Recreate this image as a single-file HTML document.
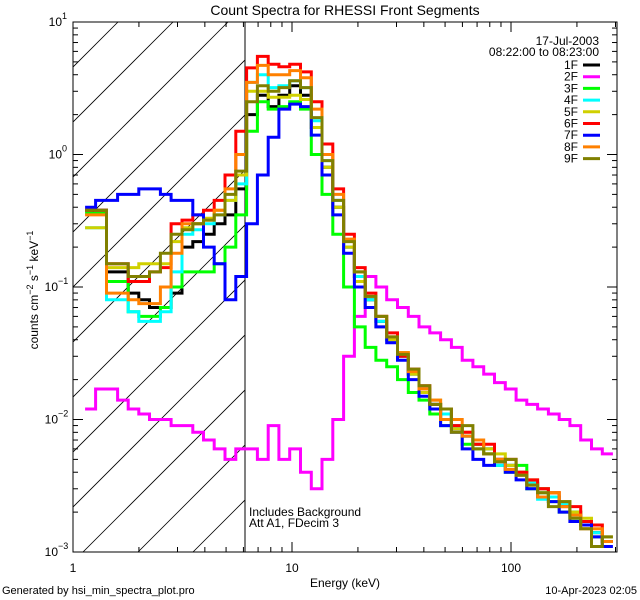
<!DOCTYPE html>
<html><head><meta charset="utf-8"><style>
body{margin:0;background:#fff;}
svg{display:block;font-family:"Liberation Sans",sans-serif;}
</style></head><body>
<svg id="chart" width="640" height="600" xmlns="http://www.w3.org/2000/svg">
<defs><clipPath id="plotclip"><rect x="73" y="22" width="544" height="530"/></clipPath>
<clipPath id="hatchclip"><rect x="73" y="22" width="172" height="530"/></clipPath></defs>
<rect width="640" height="600" fill="#fff"/>
<text x="345" y="15" font-size="14" text-anchor="middle">Count Spectra for RHESSI Front Segments</text>
<g id="hatch" clip-path="url(#hatchclip)"></g>
<line x1="245" y1="22" x2="245" y2="552" stroke="#000" stroke-width="1"/>
<g id="series" clip-path="url(#plotclip)"></g>
<rect x="73" y="22" width="544" height="530" fill="none" stroke="#000" stroke-width="1"/>
<g id="axes"></g>
<text x="345" y="587" font-size="12" text-anchor="middle">Energy (keV)</text>
<text transform="translate(38,290) rotate(-90)" font-size="12" text-anchor="middle">counts cm<tspan dy="-5" font-size="9">−2</tspan><tspan dy="5"> s</tspan><tspan dy="-5" font-size="9">−1</tspan><tspan dy="5"> keV</tspan><tspan dy="-5" font-size="9">−1</tspan></text>
<text x="249" y="516" font-size="12">Includes Background</text>
<text x="249" y="527" font-size="12">Att A1, FDecim 3</text>
<text x="599" y="45" font-size="12" text-anchor="end">17-Jul-2003</text>
<text x="599" y="56" font-size="12" text-anchor="end">08:22:00 to 08:23:00</text>
<g id="legend"></g>
<text x="2" y="594" font-size="11">Generated by hsi_min_spectra_plot.pro</text>
<text x="637" y="594" font-size="11" text-anchor="end">10-Apr-2023 02:05</text>
</svg>
<script>
const energies=[1.20,1.34,1.51,1.69,1.89,2.11,2.37,2.65,2.97,3.33,3.73,4.17,4.67,5.23,5.86,6.57,7.35,8.24,9.22,10.33,11.57,12.96,14.51,16.25,18.20,20.39,22.84,25.58,28.65,32.08,35.93,40.25,45.08,50.49,56.54,63.33,70.93,79.44,88.97,99.65,111.6,125.0,140.0,156.8,175.6,196.7,220.3,246.7,276.3];
const seriesNames=["1F","2F","3F","4F","5F","6F","7F","8F","9F"];
const seriesColors=["#000000","#ff00ff","#00ff00","#00ffff","#d0d000","#ff0000","#0000ff","#ff8000","#808000"];
const s1F=[0.38,0.38,0.13,0.13,0.09,0.08,0.07,0.07,0.09,0.2,0.22,0.25,0.3,0.35,0.55,2.0,2.8,2.3,2.8,3.3,2.8,1.6,0.8,0.4,0.2,0.12,0.08,0.055,0.04,0.03,0.022,0.017,0.013,0.011,0.009,0.0075,0.0065,0.006,0.005,0.0045,0.004,0.0033,0.003,0.0026,0.0023,0.002,0.0017,0.0014,0.0012];
const s2F=[0.012,0.017,0.017,0.014,0.012,0.011,0.01,0.01,0.009,0.009,0.008,0.007,0.006,0.005,0.006,0.006,0.005,0.009,0.005,0.006,0.004,0.003,0.005,0.01,0.03,0.06,0.12,0.1,0.08,0.07,0.06,0.05,0.045,0.04,0.035,0.028,0.025,0.022,0.019,0.017,0.014,0.013,0.012,0.011,0.01,0.009,0.007,0.006,0.0055];
const s3F=[0.36,0.36,0.11,0.11,0.065,0.06,0.06,0.07,0.1,0.13,0.13,0.13,0.15,0.2,0.35,1.5,2.5,2.2,2.3,2.5,2.2,1.0,0.5,0.25,0.1,0.05,0.035,0.028,0.025,0.02,0.016,0.014,0.011,0.009,0.009,0.0065,0.006,0.0055,0.0045,0.004,0.0045,0.003,0.0028,0.0024,0.002,0.002,0.0016,0.0013,0.0012];
const s4F=[0.28,0.28,0.08,0.08,0.065,0.055,0.055,0.065,0.13,0.25,0.27,0.3,0.35,0.45,0.6,3.5,4.0,3.2,3.3,3.6,3.2,1.8,0.9,0.45,0.2,0.12,0.08,0.055,0.04,0.03,0.022,0.017,0.013,0.011,0.009,0.0075,0.0065,0.006,0.0045,0.0045,0.004,0.0033,0.0025,0.0026,0.0023,0.0018,0.0017,0.0014,0.0012];
const s5F=[0.28,0.28,0.14,0.14,0.14,0.15,0.15,0.15,0.22,0.28,0.3,0.33,0.38,0.45,0.7,3.0,3.0,2.7,2.7,2.8,2.6,1.6,0.8,0.4,0.2,0.11,0.07,0.05,0.04,0.032,0.022,0.016,0.014,0.01,0.0085,0.008,0.0065,0.006,0.0055,0.0045,0.004,0.0035,0.003,0.0028,0.0024,0.002,0.0018,0.0016,0.0013];
const s6F=[0.38,0.38,0.15,0.15,0.11,0.11,0.13,0.14,0.3,0.32,0.35,0.38,0.45,0.7,1.5,4.5,5.5,4.8,4.6,4.8,4.2,2.5,1.2,0.55,0.25,0.14,0.09,0.06,0.045,0.03,0.024,0.018,0.013,0.012,0.009,0.008,0.0065,0.0065,0.005,0.005,0.004,0.0035,0.003,0.0028,0.0022,0.0022,0.0017,0.0016,0.0012];
const s7F=[0.4,0.45,0.45,0.5,0.5,0.55,0.55,0.5,0.45,0.45,0.35,0.2,0.15,0.08,0.12,0.3,0.7,1.35,2.2,2.4,2.3,1.4,0.7,0.35,0.18,0.1,0.07,0.05,0.038,0.028,0.02,0.015,0.012,0.009,0.008,0.006,0.005,0.0045,0.0048,0.004,0.0035,0.003,0.0026,0.0024,0.002,0.0017,0.0016,0.0013,0.0011];
const s8F=[0.35,0.35,0.09,0.09,0.08,0.075,0.075,0.1,0.18,0.3,0.3,0.32,0.38,0.55,1.0,3.5,4.7,4.0,4.0,4.3,3.8,2.2,1.0,0.5,0.23,0.13,0.085,0.06,0.042,0.032,0.023,0.017,0.014,0.01,0.01,0.0075,0.007,0.0055,0.005,0.0042,0.0038,0.0032,0.0026,0.0028,0.0022,0.0019,0.0015,0.0015,0.0012];
const s9F=[0.38,0.38,0.15,0.15,0.12,0.12,0.13,0.18,0.25,0.27,0.3,0.32,0.35,0.5,0.75,2.5,3.3,3.0,3.2,3.6,3.2,1.9,0.9,0.45,0.22,0.13,0.085,0.06,0.042,0.031,0.024,0.018,0.013,0.012,0.008,0.009,0.006,0.0055,0.0048,0.005,0.0038,0.0032,0.0028,0.0022,0.0024,0.0018,0.0015,0.0011,0.0013];
const allSeries=[s1F,s2F,s3F,s4F,s5F,s6F,s7F,s8F,s9F];
const xTickValues=[1,10,100];
const xTickLabels=["1","10","100"];
const yTickExps=[1,0,-1,-2,-3];

const NS="http://www.w3.org/2000/svg";
const X0=73,XD=219,Y0=22,YD=132.5;
function xs(e){return X0+Math.log10(e)*XD;}
function ys(v){return Y0+(1-Math.log10(v))*YD;}
function mk(tag,attrs,parent){const el=document.createElementNS(NS,tag);for(const k in attrs)el.setAttribute(k,attrs[k]);parent.appendChild(el);return el;}

const hatch=document.getElementById('hatch');
for(let k=-2;k<14;k++){
  const x0=118+k*55;
  const h=mk('line',{x1:x0,y1:22,x2:x0-600,y2:622,stroke:'#000','stroke-width':0.8},hatch);
  
  
}

const sg=document.getElementById('series');
const r=Math.sqrt(energies[1]/energies[0]);
allSeries.forEach((vals,i)=>{
  let d='';
  vals.forEach((v,j)=>{
    const xl=xs(j===0?energies[0]/r:Math.sqrt(energies[j-1]*energies[j]));
    const xr=xs(j===energies.length-1?energies[j]*r:Math.sqrt(energies[j]*energies[j+1]));
    const y=ys(v);
    d+=(j===0?'M':'L')+xl.toFixed(1)+','+y.toFixed(1)+'L'+xr.toFixed(1)+','+y.toFixed(1);
  });
  const p=mk('path',{d:d,fill:'none',stroke:seriesColors[i],'stroke-width':3,'stroke-linejoin':'miter'},sg);
  
  
});

const ax=document.getElementById('axes');
for(let dec=0;dec<3;dec++){
  for(let m=1;m<10;m++){
    const e=Math.pow(10,dec)*m; const x=xs(e); if(x>617)break;
    const len=m===1?10:5;
    mk('line',{x1:x,y1:552,x2:x,y2:552-len,stroke:'#000'},ax);
    mk('line',{x1:x,y1:22,x2:x,y2:22+len,stroke:'#000'},ax);
  }
}
xTickValues.forEach((e,i)=>{
  const t=mk('text',{x:xs(e),y:572,'font-size':12,'text-anchor':'middle'},ax);
  t.textContent=xTickLabels[i];
  
  
});
for(let ex=-3;ex<1;ex++){
  for(let m=1;m<10;m++){
    const v=Math.pow(10,ex)*m; const y=ys(v);
    const len=m===1?10:5;
    mk('line',{x1:73,y1:y,x2:73+len,y2:y,stroke:'#000'},ax);
    mk('line',{x1:617,y1:y,x2:617-len,y2:y,stroke:'#000'},ax);
  }
}
yTickExps.forEach(ex=>{
  const y=ys(Math.pow(10,ex));
  const t=mk('text',{x:ex<0?58:62,y:y+4,'font-size':12,'text-anchor':'end'},ax);
  t.textContent='10';
  
  
  const s=mk('text',{x:ex<0?58:62,y:y-3,'font-size':9,'text-anchor':'start'},ax);
  s.textContent=ex<0?('−'+(-ex)):String(ex);
  
  
});

const lg=document.getElementById('legend');
seriesNames.forEach((n,i)=>{
  const y=65+i*11.7;
  const t=mk('text',{x:578,y:y+4,'font-size':12,'text-anchor':'end'},lg);
  t.textContent=n;
  
  
  const l=mk('line',{x1:583,y1:y,x2:600,y2:y,stroke:seriesColors[i],'stroke-width':3},lg);
  
  
});
</script>
</body></html>
